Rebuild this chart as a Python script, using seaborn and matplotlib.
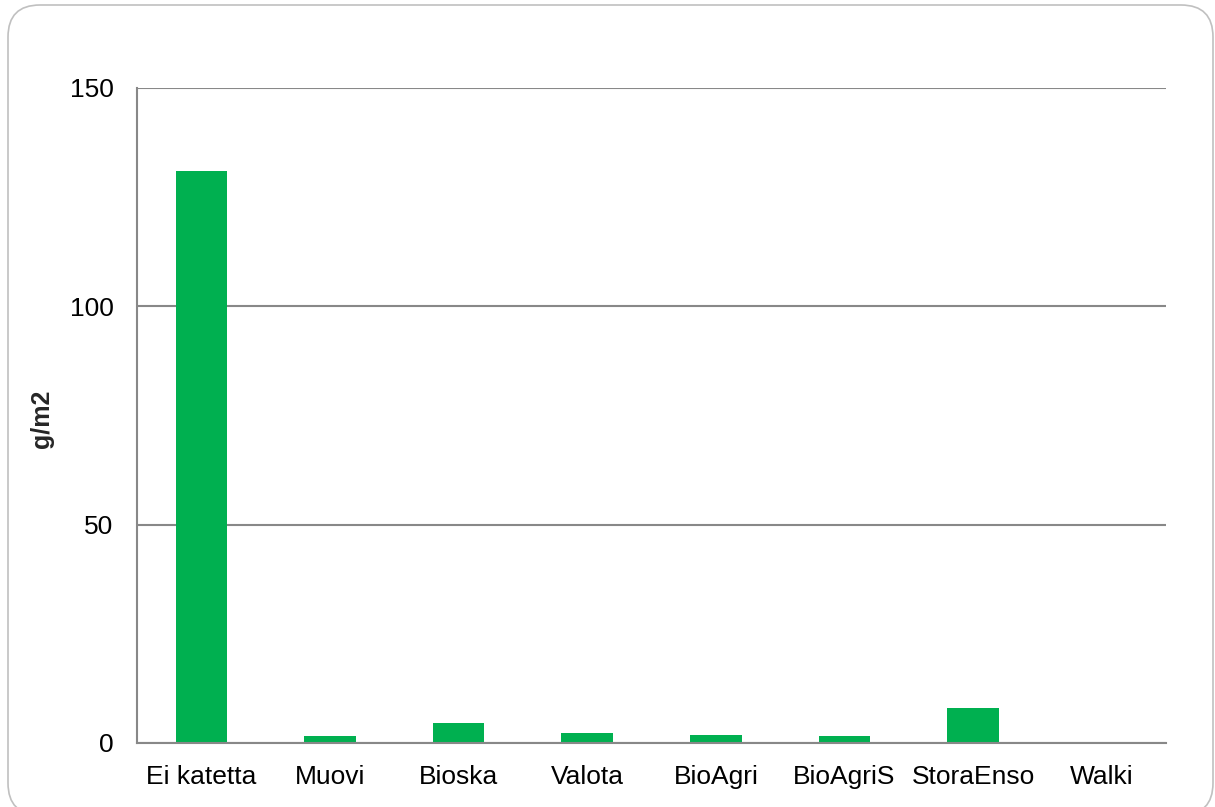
import matplotlib
matplotlib.use("Agg")
import matplotlib.pyplot as plt
import seaborn as sns
import numpy as np
from matplotlib.patches import FancyBboxPatch

categories = ["Ei katetta", "Muovi", "Bioska", "Valota", "BioAgri", "BioAgriS", "StoraEnso", "Walki"]
values = [131.0, 1.7, 4.5, 2.4, 1.8, 1.6, 8.0, 0.0]
y_ticks = [0, 50, 100, 150]
y_label = "g/m2"

sns.set_theme(style="white")
plt.rcParams['font.family'] = ['Liberation Sans', 'DejaVu Sans']

W, H = 1215, 807
fig = plt.figure(figsize=(W/100, H/100), dpi=100)
ax = fig.add_axes([137/W, 1 - 743/H, (1166-137)/W, (743-88)/H])

# rounded frame around the chart (in pixel coordinates)
frame = FancyBboxPatch((8, -8), 1205, 810,
                       boxstyle="round,pad=0,rounding_size=32",
                       transform=None, fill=False,
                       edgecolor="#c0c0c0", linewidth=1.2, zorder=0)
fig.patches.append(frame)

sns.barplot(x=categories, y=values, color="#00B050", saturation=1, width=0.4,
            ax=ax, linewidth=0)
for p in ax.patches:
    p.set_zorder(3)

ax.set_ylim(0, 150)
ax.set_xlim(-0.5, len(categories) - 0.5)
ax.set_yticks(y_ticks)
ax.set_yticklabels([str(t) for t in y_ticks], fontsize=19)
ax.set_xticks(range(len(categories)))
ax.set_xticklabels(categories, fontsize=19)
ax.set_xticks(np.arange(-0.5, len(categories)), minor=True)
ax.tick_params(axis='x', which='major', length=0, pad=16, colors='black')
ax.tick_params(axis='x', which='minor', length=7, width=1.5, color='#888888', direction='out')
ax.tick_params(axis='y', length=7, width=1.5, color='#888888', direction='out', pad=10, labelcolor='black')
ax.yaxis.grid(True, color='#888888', linewidth=1.5)
for gl in ax.yaxis.get_gridlines():
    gl.set_zorder(1)
for s in ['top', 'right']:
    ax.spines[s].set_visible(False)
for s in ['left', 'bottom']:
    ax.spines[s].set_color('#888888')
    ax.spines[s].set_linewidth(1.5)
    ax.spines[s].set_zorder(4)
ax.set_xlabel("")
ax.set_ylabel(y_label, fontsize=18, fontweight='bold')
ax.yaxis.set_label_coords(-83/1029, 0.495)

fig.savefig("out.png", dpi=100, facecolor="white")
